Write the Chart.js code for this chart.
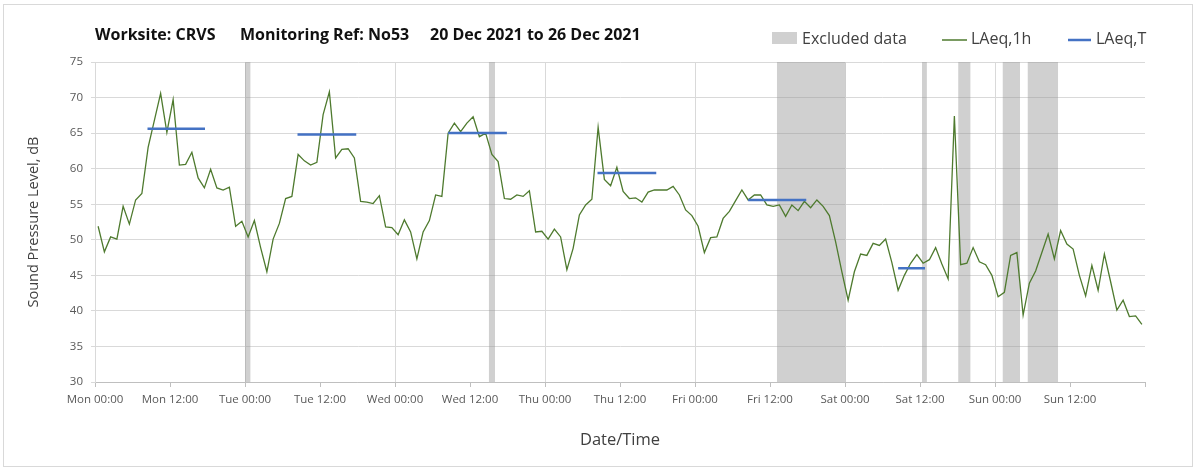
<!DOCTYPE html>
<html>
<head>
<meta charset="utf-8">
<script src="https://cdn.jsdelivr.net/npm/chart.js@4.4.1/dist/chart.umd.min.js"></script>
<style>
  body { margin: 0; background: #fff; }
  canvas { display: block; }
</style>
</head>
<body>
<canvas id="noiseChart" width="1197" height="471"></canvas>
<script>
// hourly LAeq,1h from Mon 00:00 (one value per hour, plotted mid-hour)
const laeq1h = [
  51.9, 48.3, 50.4, 50.1, 54.7, 52.2, 55.6, 56.5, 63.0, 66.8, 70.6, 65.1,
  69.7, 60.5, 60.6, 62.3, 58.7, 57.3, 59.9, 57.3, 57.0, 57.4, 51.9, 52.6,
  50.4, 52.7, 48.9, 45.5, 50.1, 52.3, 55.8, 56.1, 62.0, 61.1, 60.5, 60.9,
  67.6, 70.8, 61.5, 62.7, 62.8, 61.5, 55.4, 55.3, 55.1, 56.2, 51.8, 51.7,
  50.7, 52.8, 51.1, 47.3, 51.1, 52.7, 56.3, 56.1, 65.0, 66.4, 65.2, 66.4,
  67.3, 64.5, 65.0, 62.0, 61.0, 55.8, 55.7, 56.3, 56.1, 56.9, 51.1, 51.2,
  50.1, 51.5, 50.4, 45.8, 48.8, 53.5, 54.9, 55.7, 65.8, 58.5, 57.6, 60.2,
  56.8, 55.8, 55.9, 55.3, 56.7, 57.0, 57.0, 57.0, 57.5, 56.3, 54.2, 53.4,
  51.9, 48.2, 50.3, 50.4, 53.0, 54.0, 55.5, 57.0, 55.6, 56.3, 56.3, 54.9,
  54.7, 54.9, 53.3, 54.9, 54.1, 55.4, 54.5, 55.6, 54.7, 53.4, 49.7, 45.5,
  41.5, 45.5, 48.0, 47.8, 49.5, 49.2, 50.1, 46.8, 42.9, 45.0, 46.7, 47.9,
  46.7, 47.2, 48.9, 46.6, 44.5, 67.4, 46.5, 46.7, 48.9, 46.9, 46.5, 45.0,
  42.0, 42.6, 47.8, 48.2, 39.4, 43.9, 45.6, 48.2, 50.8, 47.3, 51.3, 49.4,
  48.7, 45.0, 42.1, 46.4, 42.9, 48.0, 44.1, 40.1, 41.5, 39.2, 39.3, 38.1
];

// LAeq,T period averages (hours from Mon 00:00)
const laeqT = [65.6, 64.8, 65.0, 59.4, 55.6, 46.0];
const laeqTStart = [8.4, 32.4, 56.5, 80.4, 104.5, 128.5];
const laeqTEnd = [17.6, 41.8, 65.9, 89.8, 113.8, 132.8];

// excluded data periods (hours from Mon 00:00)
const exclStart = [24.0, 63.0, 109.1, 132.3, 138.1, 145.2, 149.2];
const exclEnd = [24.9, 64.0, 120.1, 133.1, 140.1, 148.0, 154.1];

const xTickLabels = ['Mon 00:00', 'Mon 12:00', 'Tue 00:00', 'Tue 12:00', 'Wed 00:00', 'Wed 12:00',
  'Thu 00:00', 'Thu 12:00', 'Fri 00:00', 'Fri 12:00', 'Sat 00:00', 'Sat 12:00', 'Sun 00:00', 'Sun 12:00'];

const yMin = 30, yMax = 75;

const lineData = laeq1h.map((v, i) => ({ x: i + 0.5, y: v }));

const laeqTData = [];
laeqT.forEach((v, i) => {
  laeqTData.push({ x: laeqTStart[i], y: v }, { x: laeqTEnd[i], y: v }, { x: laeqTEnd[i], y: null });
});

const exclData = [];
exclStart.forEach((s, i) => {
  exclData.push({ x: s, y: yMax }, { x: exclEnd[i], y: yMax }, { x: exclEnd[i], y: null });
});

Chart.defaults.font.family = "'Open Sans', sans-serif";

// page frame, title and legend
const frame = {
  id: 'frame',
  beforeDraw(chart) {
    const c = chart.ctx;
    c.save();
    c.fillStyle = '#fff';
    c.fillRect(0, 0, chart.width, chart.height);
    c.strokeStyle = '#d9d9d9';
    c.lineWidth = 1;
    c.strokeRect(3.5, 4.5, 1189, 462);
    c.restore();
  },
  afterDraw(chart) {
    const c = chart.ctx;
    c.save();
    c.textBaseline = 'middle';
    c.fillStyle = '#111';
    c.font = "bold 16px 'Open Sans', sans-serif";
    c.fillText('Worksite: CRVS', 95, 35);
    c.fillText('Monitoring Ref: No53', 240, 35);
    c.fillText('20 Dec 2021 to 26 Dec 2021', 430, 35);

    const ds = chart.data.datasets;
    c.font = "16px 'Open Sans', sans-serif";
    c.fillStyle = ds[2].backgroundColor;
    c.fillRect(772, 32, 25, 12);
    c.fillStyle = '#404040';
    c.fillText(ds[2].label, 802, 39);

    c.lineWidth = 1.5;
    c.strokeStyle = ds[0].borderColor;
    c.beginPath(); c.moveTo(942, 40); c.lineTo(967, 40); c.stroke();
    c.fillText(ds[0].label, 971, 39);

    c.lineWidth = 2.5;
    c.strokeStyle = ds[1].borderColor;
    c.beginPath(); c.moveTo(1068, 40); c.lineTo(1091, 40); c.stroke();
    c.fillText(ds[1].label, 1096, 39);
    c.restore();
  }
};

new Chart(document.getElementById('noiseChart'), {
  type: 'line',
  data: {
    datasets: [
      {
        label: 'LAeq,1h',
        data: lineData,
        borderColor: '#4e7a2e',
        borderWidth: 1.3,
        pointRadius: 0,
        tension: 0,
        order: 2
      },
      {
        label: 'LAeq,T',
        data: laeqTData,
        borderColor: '#4472c4',
        borderWidth: 2.5,
        pointRadius: 0,
        spanGaps: false,
        order: 1
      },
      {
        label: 'Excluded data',
        data: exclData,
        backgroundColor: 'rgba(150,150,150,0.45)',
        borderWidth: 0,
        borderColor: 'rgba(0,0,0,0)',
        pointRadius: 0,
        spanGaps: false,
        fill: 'start',
        order: 3
      }
    ]
  },
  options: {
    responsive: false,
    animation: false,
    layout: { padding: { top: 62, right: 52, left: 0, bottom: 0 } },
    plugins: {
      legend: { display: false },
      tooltip: { enabled: false }
    },
    scales: {
      x: {
        type: 'linear',
        min: 0,
        max: 168,
        afterFit: (s) => { s.height = 89; },
        ticks: {
          stepSize: 12,
          autoSkip: false,
          maxRotation: 0,
          padding: 6,
          color: '#595959',
          font: { size: 11.5 },
          callback: (v) => xTickLabels[v / 12] || ''
        },
        grid: {
          color: (ctx) => (ctx.tick && ctx.tick.value % 24 === 0 && ctx.tick.value < 168) ? '#d9d9d9' : 'rgba(0,0,0,0)',
          tickColor: '#bfbfbf',
          tickLength: 5
        },
        border: { color: '#bfbfbf' },
        title: {
          display: true,
          text: 'Date/Time',
          color: '#404040',
          font: { size: 16.5 },
          padding: { bottom: 21 }
        }
      },
      y: {
        min: yMin,
        max: yMax,
        afterFit: (s) => { s.width = 95; },
        ticks: {
          stepSize: 5,
          padding: 8,
          color: '#595959',
          font: { size: 11.5 }
        },
        grid: { color: '#d9d9d9', tickLength: 4 },
        border: { color: '#d9d9d9' },
        title: {
          display: true,
          text: 'Sound Pressure Level, dB',
          color: '#404040',
          font: { size: 14.5 },
          padding: { top: 25 }
        }
      }
    }
  },
  plugins: [frame]
});
</script>
</body>
</html>
